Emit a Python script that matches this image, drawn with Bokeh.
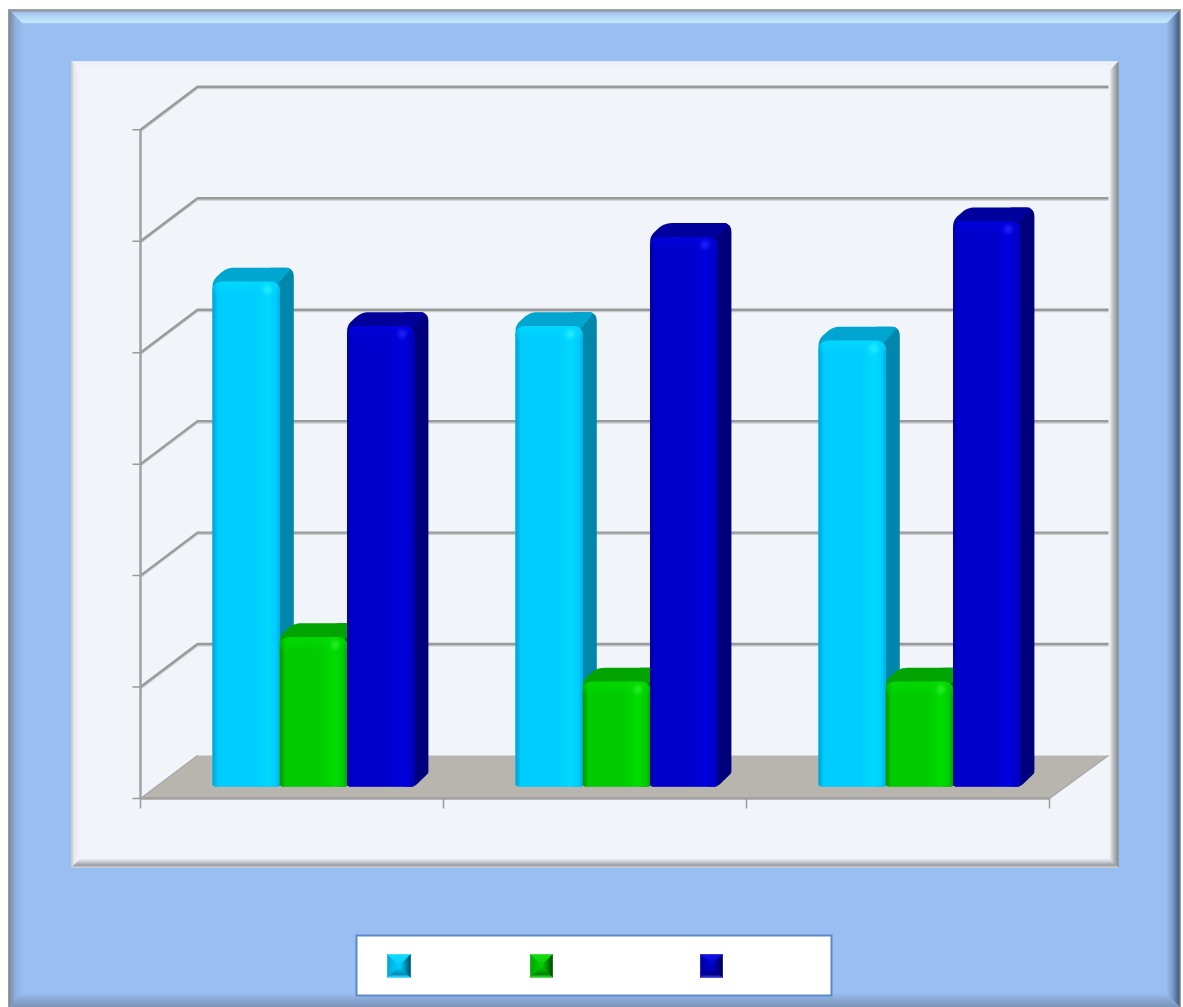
from math import sqrt, hypot

from bokeh.embed import file_html
from bokeh.models import Range1d
from bokeh.plotting import figure
from bokeh.resources import INLINE

# Chart data: three groups of three series, on a 0-6 value axis
group_positions = [0, 1, 2]
series_cyan = [4.53, 4.13, 4.0]
series_green = [1.34, 0.94, 0.94]
series_blue = [4.13, 4.93, 5.07]
value_ticks = [0, 1, 2, 3, 4, 5, 6]
group_ticks = [0, 1, 2, 3]

# Colours per series: front, brighter stripe, edge, top cap, side, highlight
STYLE_CYAN = dict(base="#00ccff", bright="#00daff", edge="#009fcf", top="#00a6cf", side="#0087ab", glow="#2ef0ff")
STYLE_GREEN = dict(base="#00cc00", bright="#00de00", edge="#008c00", top="#00a400", side="#007800", glow="#30f030")
STYLE_BLUE = dict(base="#0000cc", bright="#0000e0", edge="#0000a0", top="#00009c", side="#00007c", glow="#2a2aff")

W, H = 1183, 1007
X0, Y0 = 140, 798          # pixel position of the origin on the front plane
PX_X, PX_Y = 303.0, 111.45  # pixels per group and per value unit
BACK_DX, BACK_DY = 57, 43  # offset of the back wall from the front plane
BACK_STRETCH = 2           # the back wall runs slightly wider than the front edge
BAR_LIFT = 12              # bars stand this far behind the front edge
BAR_START, BAR_W, BAR_D = 72, 67.3, 14


def dx(px):
    return (px - X0) / PX_X


def dy(py):
    return (Y0 - py) / PX_Y


def mix(a, b, t):
    t = max(0.0, min(1.0, t))
    ca = [int(a[i:i + 2], 16) for i in (1, 3, 5)]
    cb = [int(b[i:i + 2], 16) for i in (1, 3, 5)]
    return "#%02x%02x%02x" % tuple(round(u + (v - u) * t) for u, v in zip(ca, cb))


def ramp(stops, t):
    for (t0, c0), (t1, c1) in zip(stops, stops[1:]):
        if t <= t1:
            return mix(c0, c1, (t - t0) / max(t1 - t0, 1e-6))
    return stops[-1][1]


p = figure(width=W, height=H, output_backend="svg", toolbar_location=None,
           x_range=Range1d(dx(0), dx(W)), y_range=Range1d(dy(H), dy(0)),
           min_border=0, outline_line_color=None, background_fill_color="#ffffff",
           border_fill_color="#ffffff")
p.axis.visible = False
p.grid.visible = False


def fill_rect(x0, y0, x1, y1, color):
    p.quad(left=[dx(x0)], right=[dx(x1)], top=[dy(y0)], bottom=[dy(y1)],
           fill_color=color, line_color=None)


def bevel(x0, y0, x1, y1, top, left, right, bottom, steps):
    """Mitred frame whose four sides each fade through their own colour stops."""
    xs, ys, cols = [], [], []
    for i in range(steps):
        t = i / max(steps - 1, 1)
        a, b = i, i + 1
        ring = [
            ([x0 + a, x1 - a, x1 - b, x0 + b], [y0 + a, y0 + a, y0 + b, y0 + b], top),
            ([x0 + a, x0 + a, x0 + b, x0 + b], [y0 + a, y1 - a, y1 - b, y0 + b], left),
            ([x1 - a, x1 - a, x1 - b, x1 - b], [y0 + a, y1 - a, y1 - b, y0 + b], right),
            ([x0 + a, x1 - a, x1 - b, x0 + b], [y1 - a, y1 - a, y1 - b, y1 - b], bottom),
        ]
        for px, py, stops in ring:
            xs.append([dx(v) for v in px])
            ys.append([dy(v) for v in py])
            cols.append(ramp(stops, t))
    p.patches(xs, ys, fill_color=cols, line_color=cols, line_width=0.4)


def rounded(points, radii, seg=6):
    """Polygon outline with each vertex rounded by a quadratic curve."""
    out = []
    n = len(points)
    for i, (pt, r) in enumerate(zip(points, radii)):
        prev, nxt = points[i - 1], points[(i + 1) % n]
        if r <= 0:
            out.append(pt)
            continue
        la, lb = hypot(prev[0] - pt[0], prev[1] - pt[1]), hypot(nxt[0] - pt[0], nxt[1] - pt[1])
        s = (pt[0] + (prev[0] - pt[0]) * r / la, pt[1] + (prev[1] - pt[1]) * r / la)
        e = (pt[0] + (nxt[0] - pt[0]) * r / lb, pt[1] + (nxt[1] - pt[1]) * r / lb)
        for k in range(seg + 1):
            u = k / seg
            out.append(((1 - u) ** 2 * s[0] + 2 * u * (1 - u) * pt[0] + u * u * e[0],
                        (1 - u) ** 2 * s[1] + 2 * u * (1 - u) * pt[1] + u * u * e[1]))
    return out


# Outer frame and its background
BG = "#98bef2"
fill_rect(8, 9, 1180, 1007, BG)
bevel(8, 9, 1180, 1007,
      top=[(0, "#8c8c8c"), (0.12, "#9a9fa8"), (0.2, "#a6c6f0"), (0.85, "#c8ecff"), (0.93, "#bfe0fb"), (1, BG)],
      left=[(0, "#808080"), (0.2, "#7f93b0"), (0.5, "#8daede"), (1, BG)],
      right=[(0, "#8a8a8a"), (0.1, "#3a5375"), (0.25, "#4f6c95"), (0.6, "#7e9ecb"), (1, BG)],
      bottom=[(0, "#7a90b4"), (0.5, "#86a3cf"), (1, BG)],
      steps=15)

# Inner panel
PANEL = "#f1f5fa"
fill_rect(71, 61, 1118, 867, PANEL)
bevel(71, 61, 1118, 867,
      top=[(0, "#eceff4"), (1, PANEL)],
      left=[(0, "#c4c6c9"), (0.3, "#eaecef"), (1, PANEL)],
      right=[(0, "#7f8285"), (0.4, "#a5a8ac"), (1, PANEL)],
      bottom=[(0, "#c6c9cc"), (0.25, "#8f9397"), (0.6, "#c6c9cd"), (1, PANEL)],
      steps=10)

# Back wall gridlines with their diagonal returns to the value axis
wall_dx, wall_dy = BACK_DX / PX_X, BACK_DY / PX_Y
top_end = group_ticks[-1] + wall_dx + BACK_STRETCH / PX_X
for v in value_ticks[1:]:
    gx = [0, wall_dx, top_end]
    gy = [v, v + wall_dy, v + wall_dy]
    p.line(gx, [g - 1.7 / PX_Y for g in gy], line_color="#c9cbd0", line_width=1.6)
    p.line(gx, gy, line_color="#9a9a9a", line_width=2.4)

# Floor
p.patch([0, wall_dx, top_end, group_ticks[-1]], [0, wall_dy, wall_dy, 0],
        fill_color="#b8b4ae", line_color=None)
p.line([group_ticks[0], group_ticks[-1]], [0, 0], line_color="#a0a0a0", line_width=2.5)
p.line([group_ticks[-1], top_end], [0, wall_dy], line_color="#a6a6a6", line_width=1.2)
p.line([0, wall_dx], [0, wall_dy], line_color="#a6a6a6", line_width=1.2)

# Value axis and the tick marks on both axes
tick_len_y, tick_len_x = 8 / PX_X, 10 / PX_Y
p.segment([0], [value_ticks[0]], [0], [value_ticks[-1]], line_color="#a0a0a0", line_width=2.5)
p.segment([-tick_len_y] * len(value_ticks), value_ticks, [0] * len(value_ticks), value_ticks,
          line_color="#9a9a9a", line_width=1.5)
p.segment(group_ticks, [0] * len(group_ticks), group_ticks, [-tick_len_x] * len(group_ticks),
          line_color="#9a9a9a", line_width=1.5)


def draw_bar(group, slot, value, st):
    """One bar in three parts: rounded side panel, top cap, shaded front."""
    left = group * PX_X + BAR_START + slot * BAR_W
    height = value * PX_Y
    to_x = lambda u: (left + u) / PX_X
    to_y = lambda v: (BAR_LIFT + v) / PX_Y
    w, d = BAR_W, BAR_D
    radius, foot, cap_rows, row_h = 10.0, 3.0, 14, 2.0

    side = rounded([(w - 10, height + d), (w + d, height + d), (w + d, d * 0.95), (w, 0), (w - 10, 0)],
                   [0, 9, 2, 3, 0])
    p.patch([to_x(a) for a, _ in side], [to_y(b) for _, b in side], fill_color=st["side"], line_color=None)
    cap = rounded([(0, height - 10), (0, height + 1), (d, height + d), (w + d - 2, height + d), (w, height), (w - 10, height - 10)],
                  [0, 6, 8, 5, 0, 0])
    p.patch([to_x(a) for a, _ in cap], [to_y(b) for _, b in cap], fill_color=st["top"], line_color=None)

    # Opaque underlay so the column strips never let the side or wall through
    under = rounded([(0, 0), (0, height), (w, height), (w, 0)], [foot, radius, radius, foot])
    p.patch([to_x(a) for a, _ in under], [to_y(b) for _, b in under], fill_color=st["base"], line_color=None)

    stops = [(0, st["edge"]), (0.08, st["base"]), (0.62, st["base"]), (0.82, st["bright"]),
             (0.94, st["base"]), (1, mix(st["base"], st["edge"], 0.6))]
    lft, rgt, tp, bt, cols = [], [], [], [], []
    columns = int(w)
    col_w = w / columns
    for i in range(columns):
        cx = (i + 0.5) * col_w
        edge = min(cx, w - cx)
        drop = radius - sqrt(radius ** 2 - (radius - edge) ** 2) if edge < radius else 0.0
        lift = foot - sqrt(foot ** 2 - (foot - edge) ** 2) if edge < foot else 0.0
        col = ramp(stops, cx / w)
        x0, x1 = to_x(i * col_w), to_x((i + 1) * col_w + (0.6 if i < columns - 1 else 0))
        lower = height - drop - cap_rows
        lft.append(x0); rgt.append(x1); bt.append(to_y(lift)); tp.append(to_y(max(lower, lift))); cols.append(col)
        y = max(lower, lift)
        while y < height - drop - 0.01:
            y_top = min(y + row_h + 0.4, height - drop)
            from_top = height - (y + y_top) / 2
            shade = max(0.0, 1 - from_top / cap_rows) * 0.6
            spot = max(0.0, 1 - hypot(cx - 0.82 * w, from_top - 7.5) / 7.0)
            c = mix(mix(col, st["bright"], shade), st["glow"], max(spot * 0.9, 0.1 * shade))
            lft.append(x0); rgt.append(x1); bt.append(to_y(y)); tp.append(to_y(y_top)); cols.append(c)
            y += row_h
    p.quad(left=lft, right=rgt, top=tp, bottom=bt, fill_color=cols, line_color=None, fill_alpha=1.0)


for g in group_positions:
    draw_bar(g, 0, series_cyan[g], STYLE_CYAN)
    draw_bar(g, 1, series_green[g], STYLE_GREEN)
    draw_bar(g, 2, series_blue[g], STYLE_BLUE)

# Legend box with bevelled colour keys
fill_rect(355, 934, 832, 996, "#5b88c6")
fill_rect(357, 936, 830, 994, "#ffffff")
for st, x_key, size in [(STYLE_CYAN, 387, 23), (STYLE_GREEN, 530, 22), (STYLE_BLUE, 700, 22)]:
    fill_rect(x_key, 954, x_key + size, 977, st["base"])
    bevel(x_key, 954, x_key + size, 977,
          top=[(0, mix(st["base"], st["glow"], 0.5)), (1, st["base"])],
          left=[(0, st["top"]), (1, st["base"])],
          right=[(0, mix(st["side"], "#000000", 0.45)), (1, st["base"])],
          bottom=[(0, mix(st["base"], "#ffffff", 0.25)), (0.3, st["side"]), (1, st["base"])],
          steps=11)

open("out.html", "w").write(file_html(p, INLINE))
